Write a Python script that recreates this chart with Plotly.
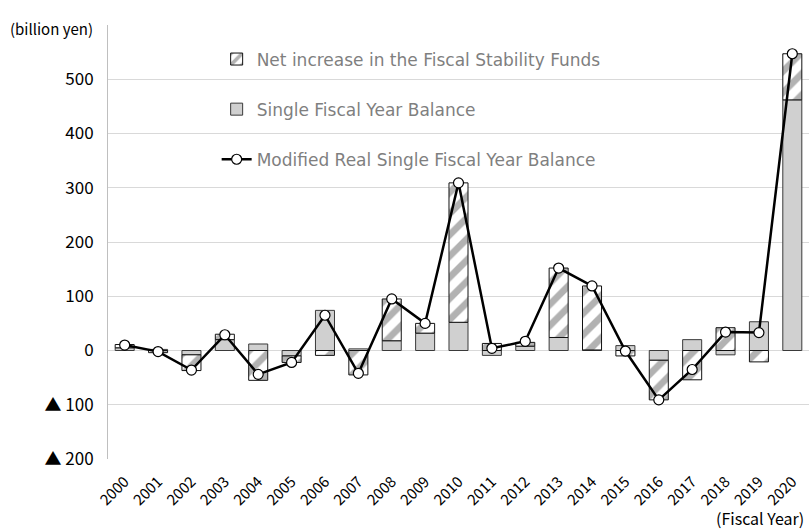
import plotly.graph_objects as go

years = [str(y) for y in range(2000, 2021)]
single_balance = [5, 2, -8, 20, 12, -10, 74, 3, 18, 32, 52, -9, 8, 24, 1, 9, -18, 20, -8, 53, 462]
net_increase = [6, -4, -29, 10, -55, -12, -9, -45, 77, 18, 257, 13, 7, 128, 118, -10, -73, -54, 42, -21, 85]
modified_real = [10, -2, -36, 29, -44, -22, 65, -42, 95, 50, 309, 4, 17, 152, 119, -1, -91, -35, 34, 33, 547]

y_ticks = [-200, -100, 0, 100, 200, 300, 400, 500, 600]
y_labels = ["▲ 200", "▲ 100", "0", "100", "200", "300", "400", "500", ""]

JP = "Noto Sans CJK JP"

fig = go.Figure()
fig.add_trace(go.Bar(
    x=years, y=single_balance, name="Single Fiscal Year Balance",
    marker=dict(color="#d0d0d0", line=dict(color="#3a3a3a", width=1)),
    legendrank=2, legendgroup="b",
))
fig.add_trace(go.Bar(
    x=years, y=net_increase, name="Net increase in the Fiscal Stability Funds",
    marker=dict(color="white", line=dict(color="#111111", width=1),
                pattern=dict(shape="/", fgcolor="#666666", bgcolor="white",
                             size=15, solidity=0.45)),
    legendrank=1, legendgroup="a",
))
fig.add_trace(go.Scatter(
    x=years, y=modified_real, name="Modified Real Single Fiscal Year Balance",
    mode="lines+markers",
    line=dict(color="black", width=2.5),
    marker=dict(symbol="circle", size=10, color="white", line=dict(color="black", width=1.2)),
    legendrank=3, legendgroup="c",
))

fig.update_layout(
    width=809, height=530,
    margin=dict(l=108, r=0, t=25, b=71),
    paper_bgcolor="white", plot_bgcolor="white",
    barmode="relative", bargap=0.43,
    showlegend=True,
    legend=dict(
        x=0.155, y=0.962, xanchor="left", yanchor="top",
        bgcolor="rgba(0,0,0,0)",
        font=dict(family="DejaVu Sans", size=17, color="#7f7f7f"),
        traceorder="grouped", tracegroupgap=25, itemwidth=30,
    ),
    xaxis=dict(
        type="category", tickangle=-45, showgrid=False, showline=False,
        ticks="", tickfont=dict(family=JP, size=15, color="black"),
        range=[-0.5, 20.5], ticklabelstandoff=10,
    ),
    yaxis=dict(
        range=[-200, 600], tickvals=y_ticks, ticktext=y_labels,
        showgrid=True, gridcolor="#d9d9d9", gridwidth=1,
        zeroline=True, zerolinecolor="#d9d9d9", zerolinewidth=1,
        showline=True, linecolor="#bfbfbf", linewidth=1,
        ticks="", ticklabelstandoff=10,
        tickfont=dict(family=JP, size=17, color="black"),
    ),
    annotations=[
        dict(text="(billion yen)", xref="paper", yref="paper", x=-0.1427, y=1.0,
             xanchor="left", yanchor="middle", yshift=-3, showarrow=False,
             font=dict(family=JP, size=15, color="black")),
        dict(text="(Fiscal Year)", xref="paper", yref="paper", x=0.996, y=0,
             xanchor="right", yanchor="middle", yshift=-59, showarrow=False,
             font=dict(family=JP, size=16, color="black")),
    ],
)

fig.write_html("out.html")
